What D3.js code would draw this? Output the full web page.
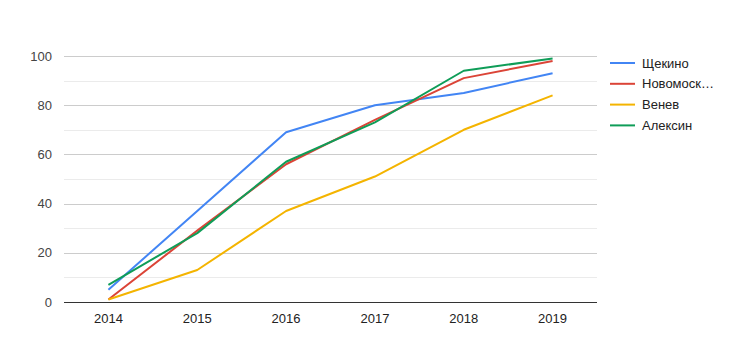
<!DOCTYPE html>
<html><head><meta charset="utf-8">
<script src="https://cdn.jsdelivr.net/npm/d3@7"></script>
<style>body{margin:0;background:#fff}svg{display:block;font-family:"Liberation Sans",Arial,sans-serif}</style>
</head><body><svg id="c" width="735" height="347"></svg>
<script>
const years = ["2014","2015","2016","2017","2018","2019"];
const seriesNames = ["Щекино","Новомоск…","Венев","Алексин"];
const shchekino = [5,37,69,80,85,93];
const novomosk = [1,29,56,74,91,98];
const venev = [1,13,37,51,70,84];
const aleksin = [7,28,57,73,94,99];
const yTicks = [0,20,40,60,80,100];
const colors = ["#4285f4","#db4437","#f4b400","#0f9d58"];
const allSeries = [shchekino, novomosk, venev, aleksin];

const svg = d3.select("#c");
const pL = 64, pR = 597, pT = 56, pB = 302;
const x = d3.scaleBand().domain(years).range([pL, pR]);
const y = d3.scaleLinear().domain([0,100]).range([pB, pT]);

// minor gridlines
const minor = d3.range(10, 100, 20);
svg.append("g").selectAll("line").data(minor).join("line")
  .attr("x1", pL).attr("x2", pR)
  .attr("y1", d => Math.round(y(d))+0.5).attr("y2", d => Math.round(y(d))+0.5)
  .attr("stroke", "#ebebeb").attr("stroke-width", 1);
// major gridlines
svg.append("g").selectAll("line").data(yTicks.filter(d=>d>0)).join("line")
  .attr("x1", pL).attr("x2", pR)
  .attr("y1", d => Math.round(y(d))+0.5).attr("y2", d => Math.round(y(d))+0.5)
  .attr("stroke", "#cccccc").attr("stroke-width", 1);

// y labels
svg.append("g").selectAll("text").data(yTicks).join("text")
  .attr("x", 52).attr("y", d => y(d)+4.5)
  .attr("text-anchor","end").attr("font-size",13).attr("fill","#444")
  .text(d => d);

// x labels
svg.append("g").selectAll("text").data(years).join("text")
  .attr("x", d => x(d)+x.bandwidth()/2).attr("y", 323)
  .attr("text-anchor","middle").attr("font-size",13).attr("fill","#222")
  .text(d => d);

// lines
const line = d3.line().x((d,i) => x(years[i])+x.bandwidth()/2).y(d => y(d));
svg.append("g").selectAll("path").data(allSeries).join("path")
  .attr("d", line).attr("fill","none")
  .attr("stroke", (d,i) => colors[i]).attr("stroke-width", 2)
  .attr("stroke-linejoin","round");

// baseline
svg.append("line").attr("x1", pL).attr("x2", pR)
  .attr("y1", pB+0.5).attr("y2", pB+0.5)
  .attr("stroke","#333").attr("stroke-width",1);

// legend
const lg = svg.append("g").selectAll("g").data(seriesNames).join("g")
  .attr("transform", (d,i) => `translate(610,${63 + i*20.8})`);
lg.append("line").attr("x1",0).attr("x2",25).attr("y1",0).attr("y2",0)
  .attr("stroke",(d,i)=>colors[i]).attr("stroke-width",2);
lg.append("text").attr("x",32).attr("y",4.5).attr("font-size",13).attr("fill","#222")
  .text(d=>d);
</script></body></html>
